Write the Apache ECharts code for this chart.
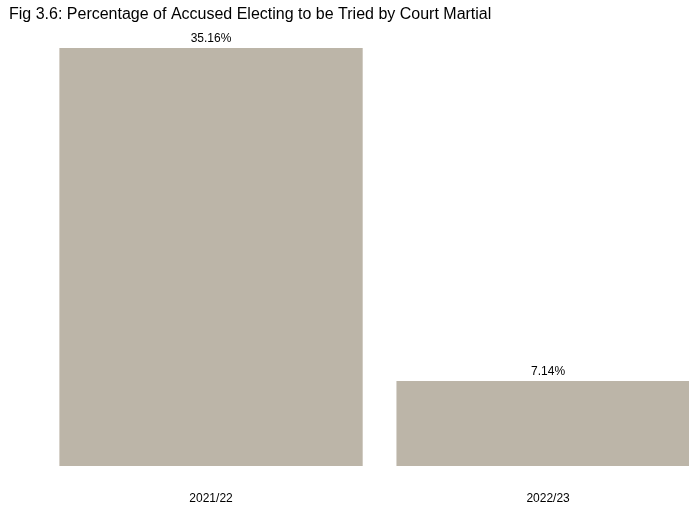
<!DOCTYPE html>
<html>
<head>
<meta charset="utf-8">
<style>
  html, body { margin: 0; padding: 0; background: #ffffff; }
  #chart { width: 689px; height: 505px; }
</style>
<script src="https://cdn.jsdelivr.net/npm/echarts@6/dist/echarts.min.js"></script>
</head>
<body>
<div id="chart"></div>
<script>
// Financial years and share of accused electing trial by court martial (%)
const categories = ['2021/22', '2022/23'];
const percentages = [35.16, 7.14];

// bars sit at integer slots 0, 1 on a numeric x scale; the plot runs
// past slot 1's band, so the second bar is clipped at the right edge
const points = percentages.map((v, i) => [i, v]);
const slots = categories.map((_, i) => i);

const chart = echarts.init(document.getElementById('chart'), null, { renderer: 'canvas' });

chart.setOption({
  animation: false,
  backgroundColor: '#ffffff',
  title: {
    text: 'Fig 3.6: Percentage of Accused Electing to be Tried by Court Martial',
    left: 4,
    top: 2,
    textStyle: {
      fontFamily: 'Liberation Sans, Arial, sans-serif',
      fontSize: 16,
      fontWeight: 'normal',
      color: '#000000'
    }
  },
  grid: {
    left: 42.5,
    right: 0,
    top: 48,
    bottom: 39,
    containLabel: false
  },
  xAxis: {
    type: 'value',
    min: -0.5,
    max: 1.418,
    axisLine: { show: false },
    axisTick: { show: false },
    splitLine: { show: false },
    axisLabel: {
      customValues: slots,
      formatter: v => categories[Math.round(v)] || '',
      margin: 27,
      fontFamily: 'Liberation Sans, Arial, sans-serif',
      fontSize: 12,
      color: '#000000'
    }
  },
  yAxis: {
    type: 'value',
    min: 0,
    max: 35.16,
    show: false,
    splitLine: { show: false }
  },
  series: [{
    type: 'bar',
    data: points,
    barWidth: 303.3,
    clip: true,
    itemStyle: { color: '#bcb5a8' },
    label: {
      show: true,
      position: 'top',
      distance: 3,
      formatter: p => p.value[1].toFixed(2) + '%',
      fontFamily: 'Liberation Sans, Arial, sans-serif',
      fontSize: 12,
      color: '#000000'
    }
  }]
});
</script>
</body>
</html>
